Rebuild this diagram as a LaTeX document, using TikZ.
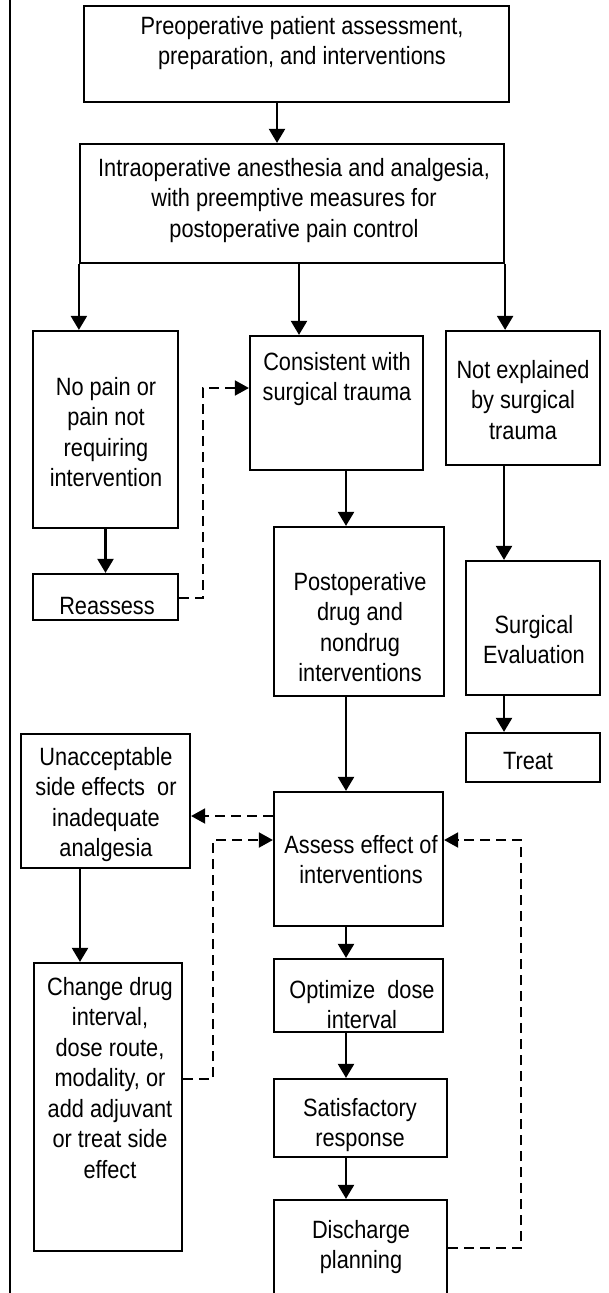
\documentclass[tikz,border=0pt]{standalone}
\usepackage{fontspec}
\setmainfont{Liberation Sans}[FakeStretch=0.87]
\usetikzlibrary{arrows.meta}
\begin{document}
\begin{tikzpicture}[x=1pt,y=-1pt,
  box/.style={draw, line width=2.2pt, rectangle, inner sep=0pt},
  txt/.style={anchor=north, align=center, inner sep=0pt, font=\fontsize{25}{30.5}\selectfont},
  arr/.style={line width=2.2pt, -{Triangle[width=16pt,length=14pt]}},
  darr/.style={line width=1.8pt, dash pattern=on 10pt off 6pt, -{Triangle[width=15pt,length=14pt]}}]
\useasboundingbox (0,0) rectangle (608,1293);
\clip (0,0) rectangle (608,1293);
% left border
\draw[line width=2.2pt] (10,0) coordinate (b1) -- (10,1293) coordinate (b2);
% boxes
\node[box, minimum width=425pt, minimum height=96pt]  (top)  at (296.5,54) {};
\node[box, minimum width=424pt, minimum height=119pt] (intra) at (292,203.5) {};
\node[box, minimum width=145pt, minimum height=197pt] (nopain) at (105.5,429.5) {};
\node[box, minimum width=173pt, minimum height=134pt] (cons) at (336.5,403) {};
\node[box, minimum width=154pt, minimum height=134pt] (notexp) at (523,398) {};
\node[box, minimum width=145pt, minimum height=46pt]  (reass) at (105.5,597) {};
\node[box, minimum width=170pt, minimum height=169pt] (postop) at (359,611.5) {};
\node[box, minimum width=134pt, minimum height=134pt] (surg) at (533,628) {};
\node[box, minimum width=134pt, minimum height=49pt]  (treat) at (533,757.5) {};
\node[box, minimum width=169pt, minimum height=134pt] (unacc) at (105.5,801) {};
\node[box, minimum width=169pt, minimum height=134pt] (assess) at (358.5,859) {};
\node[box, minimum width=148pt, minimum height=288pt] (change) at (108,1107) {};
\node[box, minimum width=169pt, minimum height=73pt]  (optim) at (358.5,995.5) {};
\node[box, minimum width=173pt, minimum height=78pt]  (satis) at (360.5,1118) {};
\node[box, minimum width=173pt, minimum height=120pt] (disch) at (360.5,1260) {};
% texts
\node[txt] (ttop) at (302,16) {Preoperative patient assessment,\\preparation, and interventions};
\node[txt] (tintra) at (294,158) {Intraoperative anesthesia and analgesia,\\with preemptive measures for\\postoperative pain control};
\node[txt] (tnopain) at (106,377) {No pain or\\pain not\\requiring\\intervention};
\node[txt] (tcons) at (337,352) {Consistent with\\surgical trauma};
\node[txt] (tnotexp) at (523,360) {Not explained\\by surgical\\trauma};
\node[txt] (treass) at (107,597) {Reassess};
\node[txt] (tpostop) at (360,572) {Postoperative\\drug and\\nondrug\\interventions};
\node[txt] (tsurg) at (534,615) {Surgical\\Evaluation};
\node[txt] (ttreat) at (528,752) {Treat};
\node[txt] (tunacc) at (106,747) {Unacceptable\\side effects\ \ or\\inadequate\\analgesia};
\node[txt] (tassess) at (361,835) {Assess effect of\\interventions};
\node[txt] (tchange) at (110,977) {Change drug\\interval,\\dose route,\\modality, or\\add adjuvant\\or treat side\\effect};
\node[txt] (toptim) at (362,980) {Optimize\ \ dose\\interval};
\node[txt] (tsatis) at (360,1098) {Satisfactory\\response};
\node[txt] (tdisch) at (361,1220) {Discharge\\planning};
% solid connectors
\draw[arr] ([xshift=-19.5pt]top.south) -- ([xshift=-19.5pt]top.south |- intra.north);
\draw[arr] (intra.south west) -- (intra.south west |- nopain.north);
\draw[arr] ([xshift=7pt]intra.south) -- ([xshift=7pt]intra.south |- cons.north);
\draw[arr] (intra.south east) -- (intra.south east |- notexp.north);
\draw[arr] (nopain.south) -- (reass.north);
\draw[arr] ([xshift=9.5pt]cons.south) -- ([xshift=9.5pt]cons.south |- postop.north);
\draw[arr] ([xshift=-19pt]notexp.south) -- ([xshift=-19pt]notexp.south |- surg.north);
\draw[arr] ([xshift=-29pt]surg.south) -- ([xshift=-29pt]surg.south |- treat.north);
\draw[arr] ([xshift=-13pt]postop.south) -- ([xshift=-13pt]postop.south |- assess.north);
\draw[arr] ([xshift=-25.5pt]unacc.south) -- ([xshift=-25.5pt]unacc.south |- change.north);
\draw[arr] ([xshift=-12.5pt]assess.south) -- ([xshift=-12.5pt]assess.south |- optim.north);
\draw[arr] ([xshift=-12.5pt]optim.south) -- ([xshift=-12.5pt]optim.south |- satis.north);
\draw[arr] ([xshift=-14.5pt]satis.south) -- ([xshift=-14.5pt]satis.south |- disch.north);
% dashed connectors
\draw[darr] ([yshift=-1pt]reass.east) -- ++(24,0) |- ([yshift=15pt]cons.west);
\draw[darr] ([yshift=43pt]assess.west) -- ([yshift=43pt]assess.west -| unacc.east);
\draw[darr] ([yshift=28pt]change.east) -- ++(30,0) |- ([yshift=19pt]assess.west);
\draw[darr] ([yshift=12pt]disch.east) -- ++(73,0) |- ([yshift=19pt]assess.east);
\end{tikzpicture}
\end{document}
